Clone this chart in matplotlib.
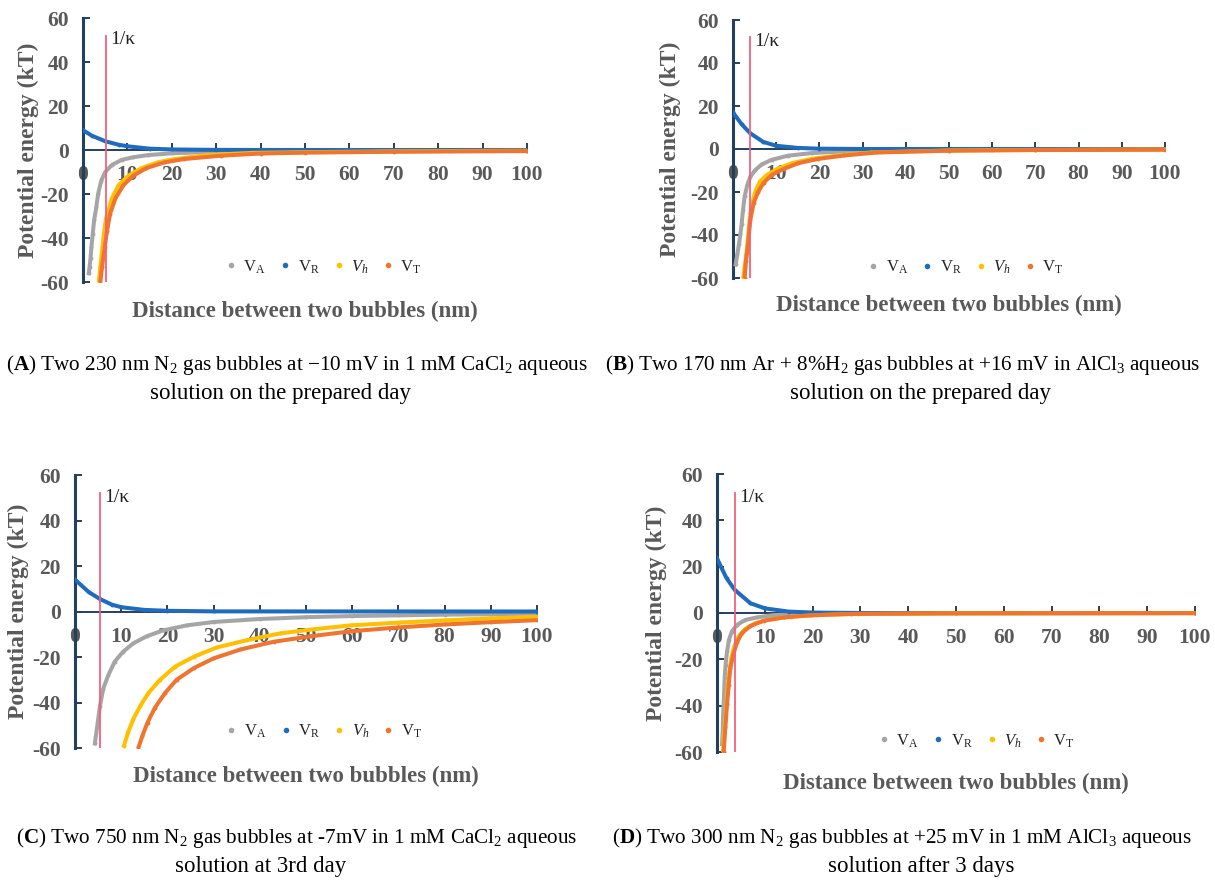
import matplotlib
matplotlib.use('Agg')
import matplotlib.pyplot as plt
from matplotlib.lines import Line2D

plt.rcParams['font.family'] = ['Liberation Serif', 'DejaVu Serif']
plt.rcParams['mathtext.fontset'] = 'custom'
plt.rcParams['mathtext.rm'] = 'Liberation Serif'
plt.rcParams['mathtext.it'] = 'Liberation Serif:italic'
plt.rcParams['mathtext.bf'] = 'Liberation Serif:bold'
plt.rcParams['mathtext.default'] = 'regular'
plt.rcParams['axes.unicode_minus'] = False

# Panel A: 230 nm N2 bubbles, -10 mV, 1 mM CaCl2
a_vr_x = [0, 2, 5, 8, 10, 15, 20, 30, 50, 100]
a_vr_y = [9.0, 6.5, 4.0, 2.4, 1.7, 0.6, 0.25, 0.05, 0, 0]
a_va_x = [1.3, 1.5, 1.7, 1.9, 2.2, 2.5, 3.0, 3.4, 4.1, 5.0, 6.5, 8.7, 11.3, 14.7, 20, 28, 40, 50, 70, 100]
a_va_y = [-56, -53, -49, -44, -38, -32, -26, -20, -14, -10, -6.8, -4.5, -3.3, -2.3, -1.5, -0.9, -0.6, -0.5, -0.35, -0.25]
a_vh_x = [3.6, 3.9, 4.3, 4.7, 5.2, 6.5, 8, 10.2, 13.2, 16.9, 20.6, 28, 38.4, 50, 70, 100]
a_vh_y = [-59.4, -53, -46, -38, -31, -22, -16, -11.7, -8.2, -5.6, -4.1, -2.3, -1.3, -1.0, -0.6, -0.3]
a_vt_x = [3.9, 4.3, 4.9, 5.4, 6.1, 7.3, 9.1, 11.3, 14.3, 18.4, 22.8, 31, 40, 50, 70, 100]
a_vt_y = [-60, -53, -44, -37, -29, -22, -16, -11.7, -8.2, -5.6, -4.1, -2.6, -1.6, -1.2, -0.8, -0.5]

# Panel B: 170 nm Ar + 8%H2 bubbles, +16 mV, AlCl3
b_vr_x = [0, 2, 4, 7, 10, 15, 20, 30, 100]
b_vr_y = [17, 11.5, 7.3, 3.3, 1.5, 0.5, 0.15, 0, 0]
b_va_x = [0.6, 1.0, 1.4, 1.7, 2.0, 2.3, 2.7, 3.3, 4.0, 5.2, 6.7, 9, 12.8, 18.2, 28, 40, 60, 100]
b_va_y = [-53.7, -49, -44, -39.6, -35, -28.6, -22, -16.8, -12.9, -9.7, -7.1, -5, -3.1, -1.9, -0.9, -0.5, -0.3, -0.15]
b_vh_x = [2.4, 2.7, 3.1, 3.4, 3.7, 4.0, 4.6, 5.3, 6.3, 7.9, 10.2, 13.6, 18.2, 24.3, 32, 50, 70, 100]
b_vh_y = [-59.5, -55, -49, -42.7, -36, -30, -24, -19, -15, -12, -9.3, -6.6, -4.6, -3.0, -1.6, -0.7, -0.4, -0.2]
b_vt_x = [2.7, 3.0, 3.5, 4.0, 4.8, 5.8, 7.1, 9, 11.7, 15.1, 19.7, 25.8, 33.4, 50, 70, 100]
b_vt_y = [-60, -52, -44, -33, -25, -20, -15.7, -12, -9.3, -6.6, -4.6, -3.0, -1.6, -0.8, -0.5, -0.3]

# Panel C: 750 nm N2 bubbles, -7 mV, 1 mM CaCl2, 3rd day
c_vr_x = [0, 3, 5.4, 8, 10, 15, 20, 30, 100]
c_vr_y = [14, 8.5, 5.5, 3.0, 1.9, 0.7, 0.3, 0.05, 0]
c_va_x = [4.3, 4.8, 5.4, 6.1, 7.2, 8.6, 10.4, 12.6, 15.5, 19.1, 24.2, 30, 40, 50, 60, 70, 80, 90, 100]
c_va_y = [-58, -50.6, -41.6, -34, -28, -22, -17.7, -14, -10.9, -8.3, -6.1, -4.6, -3.3, -2.5, -2.0, -1.7, -1.4, -1.2, -1.0]
c_vh_x = [10.6, 11.5, 12.6, 14.1, 15.9, 18.4, 21.7, 25.7, 30.7, 37.2, 44.5, 51.7, 59.7, 70, 80, 90, 100]
c_vh_y = [-59, -53, -47.4, -41.6, -35.8, -30, -24.2, -19.9, -15.8, -12.6, -9.6, -7.8, -6.1, -4.9, -3.9, -3.0, -2.3]
c_vt_x = [13.7, 14.6, 15.7, 17.3, 19.5, 22, 25.7, 30, 35.8, 43, 51, 59.7, 70, 80, 90, 100]
c_vt_y = [-60, -54.6, -48.8, -42.3, -35.8, -30, -24.9, -20.6, -16.7, -13.3, -10.9, -8.7, -7.0, -5.7, -4.7, -3.8]

# Panel D: 300 nm N2 bubbles, +25 mV, 1 mM AlCl3, after 3 days
d_vr_x = [0, 2, 3.7, 7, 10, 15, 20, 30, 100]
d_vr_y = [23.5, 15, 10, 4.2, 2, 0.6, 0.2, 0, 0]
d_va_x = [1.05, 1.2, 1.26, 1.4, 1.6, 1.8, 2.1, 2.5, 3.1, 4.2, 5.9, 8.4, 11.9, 17.5, 30, 100]
d_va_y = [-56.6, -50.9, -45, -39.4, -28, -22.3, -16.6, -11.6, -8, -5.1, -3, -1.9, -0.9, -0.4, -0.15, -0.05]
d_vh_x = [1.26, 1.4, 1.7, 2.0, 2.2, 2.6, 3.0, 3.6, 4.5, 5.9, 8, 11.2, 15.4, 21, 29.4, 50, 100]
d_vh_y = [-59.4, -53.7, -46.6, -39.4, -32.3, -25, -19.4, -14.4, -10.1, -6.9, -4.4, -2.7, -1.6, -0.9, -0.4, -0.15, -0.05]
d_vt_x = [1.4, 1.75, 2.1, 2.45, 2.8, 3.4, 4.2, 5.2, 7, 9.8, 14, 19.6, 28, 50, 100]
d_vt_y = [-60, -49.4, -39.4, -30.9, -23.7, -18, -12.6, -8.7, -5.6, -3.3, -1.9, -1.0, -0.4, -0.15, -0.05]

# Debye length (1/kappa) for each panel, nm
debye = [5.2, 4.0, 5.4, 3.7]

x_ticks = [0, 10, 20, 30, 40, 50, 60, 70, 80, 90, 100]
y_ticks = [-60, -40, -20, 0, 20, 40, 60]
series_labels = [r'V$_{\rm A}$', r'V$_{\rm R}$', r'$\it{V_h}$', r'V$_{\rm T}$']

captions_1 = [
    r'($\bf{A}$) Two 230 nm N$_2$ gas bubbles at $-$10 mV in 1 mM CaCl$_2$ aqueous',
    r'($\bf{B}$) Two 170 nm Ar + 8%H$_2$ gas bubbles at +16 mV in AlCl$_3$ aqueous',
    r'($\bf{C}$) Two 750 nm N$_2$ gas bubbles at -7mV in 1 mM CaCl$_2$ aqueous',
    r'($\bf{D}$) Two 300 nm N$_2$ gas bubbles at +25 mV in 1 mM AlCl$_3$ aqueous',
]
captions_2 = [
    'solution on the prepared day',
    'solution on the prepared day',
    'solution at 3rd day',
    'solution after 3 days',
]

c_gray = '#A5A5A5'
c_blue = '#1F6BBE'
c_yellow = '#FFC000'
c_orange = '#EE7430'
c_axis = '#24405E'
c_text = '#595959'
c_kappa = '#F2607E'

W, H = 1215, 880
fig = plt.figure(figsize=(W / 100, H / 100), dpi=100)

# axes boxes in pixels: x of 0 nm, x of 100 nm, y of +60, y of -60
boxes = [(83, 527, 18, 282), (733, 1165, 20, 278), (75, 537, 475, 748), (717, 1195, 474, 752)]
ylab_x = [-0.10, -0.12, -0.10, -0.105]
xlab_y = [-0.072, -0.066, -0.066, -0.076]
leg_pos = [(0.543, 0.057), (0.54, 0.04), (0.54, 0.062), (0.544, 0.04)]

data = [
    (a_va_x, a_va_y, a_vr_x, a_vr_y, a_vh_x, a_vh_y, a_vt_x, a_vt_y),
    (b_va_x, b_va_y, b_vr_x, b_vr_y, b_vh_x, b_vh_y, b_vt_x, b_vt_y),
    (c_va_x, c_va_y, c_vr_x, c_vr_y, c_vh_x, c_vh_y, c_vt_x, c_vt_y),
    (d_va_x, d_va_y, d_vr_x, d_vr_y, d_vh_x, d_vh_y, d_vt_x, d_vt_y),
]

for i, (x0, x1, ytop, ybot) in enumerate(boxes):
    ax = fig.add_axes([x0 / W, 1 - ybot / H, (x1 - x0) / W, (ybot - ytop) / H])
    va_x, va_y, vr_x, vr_y, vh_x, vh_y, vt_x, vt_y = data[i]

    for xs, ys, col in [(va_x, va_y, c_gray), (vr_x, vr_y, c_blue),
                        (vh_x, vh_y, c_yellow), (vt_x, vt_y, c_orange)]:
        ax.plot(xs, ys, color=col, lw=2.9, marker='o', ms=2.8, mew=0, zorder=3)

    ax.plot([debye[i], debye[i]], [-60, 52], color=c_kappa, lw=1.3, zorder=4)
    ax.text(debye[i] + 0.9, 50, '1/\u03ba', fontsize=14, color='#222222', va='center', ha='left')

    ax.set_xlim(0, 100)
    ax.set_ylim(-60, 60)
    ax.spines['left'].set_position(('data', 0))
    ax.spines['bottom'].set_position(('data', 0))
    ax.spines['top'].set_visible(False)
    ax.spines['right'].set_visible(False)
    ax.spines['left'].set_color(c_axis)
    ax.spines['bottom'].set_color(c_axis)
    ax.spines['left'].set_linewidth(2.2)
    ax.spines['bottom'].set_linewidth(1.4)
    ax.spines['left'].set_zorder(2)
    ax.spines['bottom'].set_zorder(2)

    ax.set_xticks(x_ticks)
    ax.set_yticks(y_ticks)
    ax.set_xticklabels([str(t) for t in x_ticks])
    ax.set_yticklabels([str(t) for t in y_ticks])
    ax.tick_params(axis='x', direction='in', length=5, width=1.4, color=c_axis,
                   labelsize=15.5, labelcolor=c_text, pad=11)
    ax.tick_params(axis='y', direction='in', length=5, width=1.4, color=c_axis,
                   labelsize=15.5, labelcolor=c_text, pad=10)
    for lab in ax.get_xticklabels() + ax.get_yticklabels():
        lab.set_fontweight('bold')

    ax.set_ylabel('Potential energy (kT)', fontsize=17, fontweight='bold', color=c_text)
    ax.yaxis.set_label_coords(ylab_x[i], 0.5)
    ax.set_xlabel('Distance between two bubbles (nm)', fontsize=16.5, fontweight='bold', color=c_text)
    ax.xaxis.set_label_coords(0.5, xlab_y[i])

    handles = [Line2D([], [], ls='none', marker='o', ms=4, mew=0, color=c)
               for c in [c_gray, c_blue, c_yellow, c_orange]]
    ax.legend(handles, series_labels, loc='center', bbox_to_anchor=leg_pos[i], ncol=4,
              frameon=False, fontsize=12, handlelength=0.5, handletextpad=0.5,
              columnspacing=0.9, labelcolor='#222222')

# figure captions below each panel
cap_size = 16.5
line1_size = 15.2
fig.text(588 / W, 1 - 365 / H, captions_1[0], fontsize=line1_size, ha='right', va='center')
fig.text(280 / W, 1 - 393 / H, captions_2[0], fontsize=cap_size, ha='center', va='center')
fig.text(605 / W, 1 - 365 / H, captions_1[1], fontsize=line1_size, ha='left', va='center')
fig.text(921 / W, 1 - 393 / H, captions_2[1], fontsize=cap_size, ha='center', va='center')
fig.text(577 / W, 1 - 838 / H, captions_1[2], fontsize=line1_size, ha='right', va='center')
fig.text(261 / W, 1 - 866 / H, captions_2[2], fontsize=cap_size, ha='center', va='center')
fig.text(612 / W, 1 - 838 / H, captions_1[3], fontsize=line1_size, ha='left', va='center')
fig.text(921 / W, 1 - 866 / H, captions_2[3], fontsize=cap_size, ha='center', va='center')

plt.savefig('out.png', dpi=100)
